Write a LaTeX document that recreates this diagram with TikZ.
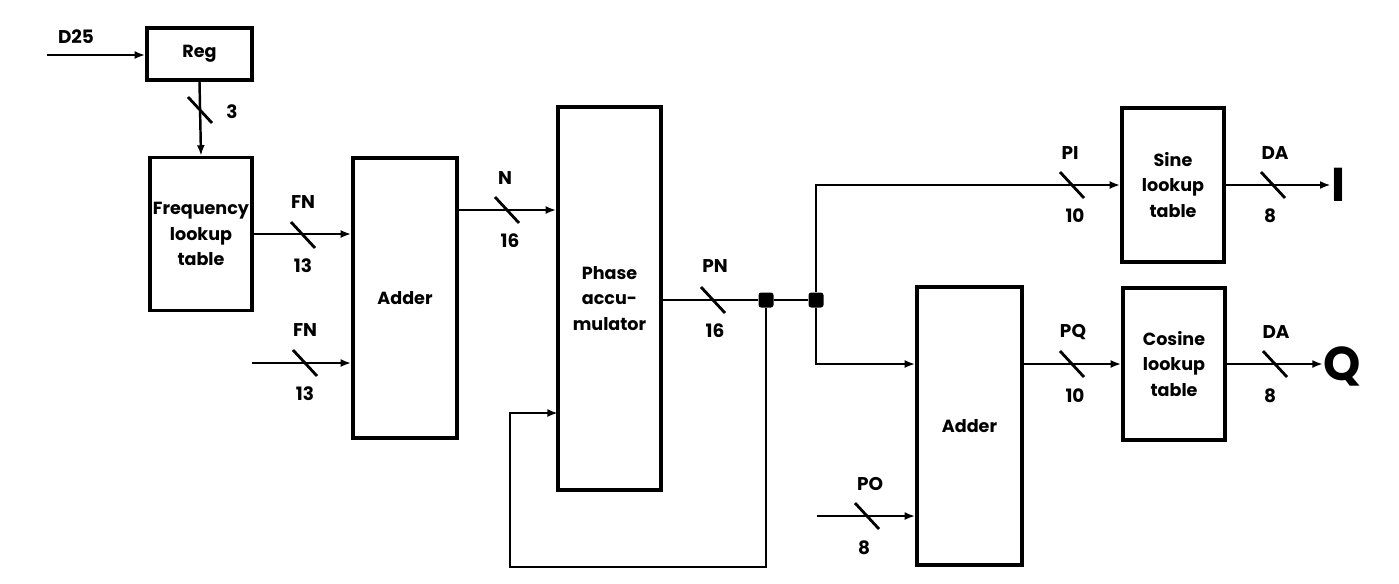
\documentclass[tikz,border=0pt]{standalone}
\usepackage{fontspec}
\setmainfont{Poppins}
\usepackage{tikz}
\usetikzlibrary{positioning,arrows.meta,calc}

\tikzset{
  blk/.style={draw, line width=2pt, inner sep=0pt, align=center,
    font=\bfseries\fontsize{10}{14.5}\selectfont},
  lbl/.style={font=\bfseries\fontsize{10.5}{12}\selectfont, inner sep=0pt},
  outlbl/.style={font=\bfseries\fontsize{27}{30}\selectfont, inner sep=0pt},
  wire/.style={line width=1.4pt},
  busln/.style={line width=1.6pt},
  dot/.style={fill, rounded corners=1.5pt, minimum size=0.3cm, inner sep=0pt}
}
\newcommand{\busmark}[1]{\draw[busln] ($(#1)+(-12,-13)$) -- ($(#1)+(12,13)$);}

\begin{document}
\begin{tikzpicture}[>={Latex[length=6pt,width=4.5pt]}, x=0.02cm, y=-0.02cm]
    \useasboundingbox (0,0) rectangle (1399,583);
    % blocks
    \node[blk, minimum width=2.1cm, minimum height=1.04cm] (reg) at (199.5,54) {Reg};
    \node[blk, minimum width=2.04cm, minimum height=3.06cm] (freq) at (201,234) {Frequency\\lookup\\table};
    \node[blk, minimum width=2.08cm, minimum height=5.6cm] (addA) at (405,298) {Adder};
    \node[blk, minimum width=2.06cm, minimum height=7.66cm] (phase) at (609.5,298.5) {Phase\\accu-\\mulator};
    \node[blk, minimum width=2.1cm, minimum height=5.56cm] (addB) at (969.5,426) {Adder};
    \node[blk, minimum width=2.04cm, minimum height=3.08cm] (sine) at (1173,185) {Sine\\lookup\\table};
    \node[blk, minimum width=2.04cm, minimum height=3.04cm] (cosine) at (1174,364) {Cosine\\lookup\\table};
    % outputs
    \node[outlbl] (outI) at (1338,185) {I};
    \node[outlbl] (outQ) at (1342,366) {Q};
    % junctions
    \node[dot] (jA) at (766,300) {};
    \node[dot] (jB) at (816,300) {};
    % free ends
    \coordinate (dIn) at (47,55);
    \coordinate (fnIn) at (252,363);
    \coordinate (poIn) at (817,516);
    \coordinate (fbLow) at (510,567);
    \coordinate (fbIn) at (558,413);
    \coordinate (nRow) at (0,210);
    % connectors
    \draw[wire,->] (dIn) -- (reg.west |- dIn);
    \draw[wire,->] (reg.south) -- (freq.north);
    \draw[wire,->] (freq.east) -- (freq.east -| addA.west);
    \draw[wire,->] (fnIn) -- (fnIn -| addA.west);
    \draw[wire,->] (addA.east |- nRow) -- (phase.west |- nRow);
    \draw[wire] (phase.east |- jA) -- (jA) -- (jB);
    \draw[wire,->] (jA) |- (fbLow) |- (fbIn);
    \draw[wire,->] (jB) |- (sine.west);
    \draw[wire,->] (jB) |- (addB.west |- cosine.west);
    \draw[wire,->] (poIn) -- (poIn -| addB.west);
    \draw[wire,->] (addB.east |- cosine.west) -- (cosine.west);
    \draw[wire,->] (sine.east) -- (outI.west);
    \draw[wire,->] (cosine.east) -- (cosine.east -| outQ.west);
    % bus marks
    \busmark{200,110}
    \busmark{303,235}
    \busmark{305,363}
    \busmark{507,210}
    \busmark{713,300}
    \busmark{867,516}
    \busmark{1072,185}
    \busmark{1273,185}
    \busmark{1072,364}
    \busmark{1275,364}
    % labels
    \node[lbl] (lD) at (76,37) {D25};
    \node[lbl] (lReg) at (232,112) {3};
    \node[lbl] (lFnA) at (303,202) {FN};
    \node[lbl] (lFnAw) at (303,266) {13};
    \node[lbl] (lFnB) at (305,330) {FN};
    \node[lbl] (lFnBw) at (305,394) {13};
    \node[lbl] (lN) at (505,178) {N};
    \node[lbl] (lNw) at (510,241) {16};
    \node[lbl] (lPN) at (715,266) {PN};
    \node[lbl] (lPNw) at (715,331) {16};
    \node[lbl] (lPO) at (870,484) {PO};
    \node[lbl] (lPOw) at (864,548) {8};
    \node[lbl] (lPI) at (1070,153) {PI};
    \node[lbl] (lPIw) at (1075,216) {10};
    \node[lbl] (lDAa) at (1275,153) {DA};
    \node[lbl] (lDAaw) at (1270,216) {8};
    \node[lbl] (lPQ) at (1073,332) {PQ};
    \node[lbl] (lPQw) at (1075,396) {10};
    \node[lbl] (lDAb) at (1276,332) {DA};
    \node[lbl] (lDAbw) at (1270,396) {8};
\end{tikzpicture}
\end{document}
